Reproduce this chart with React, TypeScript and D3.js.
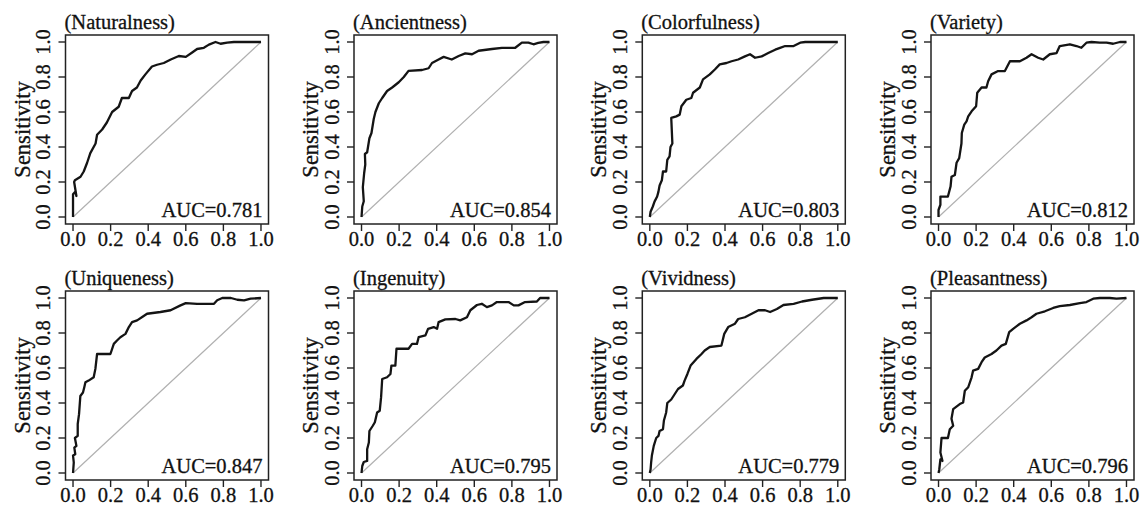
import * as d3 from 'd3';
import React from 'react';

// ROC curves: [1 - specificity, sensitivity]
const naturalnessRoc = [
  [0, 0], [0, 0.13], [0.012, 0.145], [0.018, 0.12], [0.006, 0.2], [0.01, 0.21], [0.04, 0.23],
  [0.057, 0.26], [0.075, 0.31], [0.092, 0.365], [0.12, 0.42], [0.128, 0.47], [0.155, 0.5],
  [0.18, 0.54], [0.208, 0.6], [0.243, 0.63], [0.26, 0.68], [0.297, 0.68], [0.314, 0.72],
  [0.34, 0.74], [0.36, 0.78], [0.385, 0.815], [0.42, 0.86], [0.447, 0.87], [0.483, 0.88],
  [0.52, 0.9], [0.563, 0.92], [0.6, 0.915], [0.634, 0.94], [0.66, 0.96], [0.696, 0.967],
  [0.723, 0.985], [0.758, 1.0], [0.785, 0.99], [0.82, 0.996], [0.856, 1], [1, 1],
];
const ancientnessRoc = [
  [0, 0], [0.004, 0.06], [0.012, 0.09], [0.007, 0.17], [0.014, 0.25], [0.02, 0.3],
  [0.018, 0.36], [0.03, 0.37], [0.042, 0.45], [0.053, 0.48], [0.065, 0.56], [0.074, 0.6],
  [0.092, 0.65], [0.11, 0.68], [0.136, 0.72], [0.163, 0.74], [0.198, 0.77], [0.225, 0.8],
  [0.25, 0.835], [0.322, 0.84], [0.357, 0.85], [0.375, 0.88], [0.41, 0.9], [0.437, 0.915],
  [0.48, 0.9], [0.517, 0.92], [0.552, 0.935], [0.588, 0.93], [0.623, 0.95], [0.694, 0.96],
  [0.747, 0.967], [0.818, 0.967], [0.853, 0.996], [0.888, 0.996], [0.915, 0.987],
  [0.94, 0.995], [0.968, 1], [1, 1],
];
const colorfulnessRoc = [
  [0, 0], [0.004, 0.03], [0.016, 0.06], [0.025, 0.088], [0.039, 0.117], [0.046, 0.145],
  [0.052, 0.18], [0.064, 0.21], [0.07, 0.26], [0.087, 0.26], [0.093, 0.327], [0.105, 0.346],
  [0.11, 0.4], [0.12, 0.42], [0.114, 0.566], [0.141, 0.575], [0.159, 0.585], [0.168, 0.633],
  [0.194, 0.67], [0.221, 0.68], [0.23, 0.71], [0.266, 0.74], [0.283, 0.786], [0.319, 0.815],
  [0.346, 0.843], [0.372, 0.872], [0.408, 0.88], [0.435, 0.89], [0.47, 0.9], [0.506, 0.918],
  [0.533, 0.93], [0.56, 0.91], [0.595, 0.918], [0.63, 0.937], [0.667, 0.956], [0.693, 0.966],
  [0.72, 0.977], [0.765, 0.977], [0.8, 0.996], [0.827, 1], [1, 1],
];
const varietyRoc = [
  [0, 0], [0, 0.04], [0.01, 0.07], [0.01, 0.117], [0.05, 0.117], [0.064, 0.174], [0.069, 0.23],
  [0.087, 0.24], [0.096, 0.31], [0.11, 0.336], [0.122, 0.42], [0.124, 0.48], [0.137, 0.528],
  [0.149, 0.547], [0.158, 0.575], [0.176, 0.604], [0.2, 0.633], [0.206, 0.71], [0.229, 0.74],
  [0.255, 0.74], [0.264, 0.776], [0.282, 0.815], [0.317, 0.834], [0.353, 0.834], [0.38, 0.89],
  [0.433, 0.89], [0.468, 0.91], [0.495, 0.93], [0.53, 0.91], [0.557, 0.9], [0.592, 0.93],
  [0.628, 0.937], [0.645, 0.977], [0.699, 0.987], [0.734, 0.977], [0.76, 0.967],
  [0.787, 0.996], [0.814, 1], [0.858, 0.996], [0.894, 0.996], [0.929, 0.99], [0.965, 1], [1, 1],
];
const uniquenessRoc = [
  [0, 0], [0.004, 0.06], [0, 0.1], [0.012, 0.107], [0.007, 0.145], [0.018, 0.155], [0.01, 0.2],
  [0.025, 0.212], [0.025, 0.28], [0.032, 0.336], [0.039, 0.44], [0.053, 0.46], [0.06, 0.49],
  [0.066, 0.518], [0.083, 0.528], [0.11, 0.547], [0.119, 0.595], [0.128, 0.68], [0.199, 0.68],
  [0.217, 0.738], [0.234, 0.757], [0.252, 0.776], [0.279, 0.795], [0.297, 0.834],
  [0.314, 0.862], [0.341, 0.872], [0.368, 0.891], [0.394, 0.91], [0.465, 0.92], [0.519, 0.93],
  [0.572, 0.958], [0.6, 0.971], [0.66, 0.967], [0.75, 0.967], [0.767, 0.987], [0.794, 1],
  [0.84, 1], [0.874, 0.99], [0.91, 0.987], [0.945, 0.996], [1, 1],
];
const ingenuityRoc = [
  [0, 0], [0.004, 0.04], [0.012, 0.063], [0.03, 0.069], [0.03, 0.136], [0.039, 0.174],
  [0.042, 0.24], [0.06, 0.27], [0.071, 0.29], [0.083, 0.346], [0.097, 0.356], [0.104, 0.432],
  [0.11, 0.537], [0.136, 0.547], [0.154, 0.566], [0.159, 0.614], [0.18, 0.614], [0.186, 0.71],
  [0.25, 0.71], [0.269, 0.738], [0.295, 0.738], [0.304, 0.776], [0.34, 0.786], [0.354, 0.824],
  [0.384, 0.834], [0.402, 0.824], [0.41, 0.862], [0.446, 0.878], [0.5, 0.88], [0.525, 0.872],
  [0.561, 0.89], [0.579, 0.93], [0.614, 0.96], [0.64, 0.967], [0.667, 0.948], [0.694, 0.958],
  [0.72, 0.977], [0.782, 0.977], [0.81, 0.958], [0.835, 0.958], [0.87, 0.977], [0.933, 0.98],
  [0.95, 1], [1, 1],
];
const vividnessRoc = [
  [0, 0], [0.004, 0.02], [0.007, 0.06], [0.011, 0.1], [0.021, 0.155], [0.034, 0.2],
  [0.046, 0.212], [0.052, 0.24], [0.07, 0.25], [0.075, 0.3], [0.087, 0.346], [0.093, 0.4],
  [0.114, 0.42], [0.132, 0.45], [0.15, 0.48], [0.176, 0.5], [0.185, 0.528], [0.2, 0.566],
  [0.217, 0.614], [0.248, 0.652], [0.275, 0.68], [0.292, 0.7], [0.319, 0.72], [0.381, 0.728],
  [0.396, 0.795], [0.417, 0.834], [0.453, 0.853], [0.47, 0.88], [0.506, 0.89], [0.542, 0.91],
  [0.578, 0.93], [0.613, 0.93], [0.64, 0.92], [0.676, 0.937], [0.711, 0.96], [0.765, 0.967],
  [0.81, 0.98], [0.863, 0.99], [0.925, 1], [0.96, 1], [1, 1],
];
const pleasantnessRoc = [
  [0, 0], [0.004, 0.02], [0.01, 0.078], [0.021, 0.069], [0.01, 0.117], [0.016, 0.2],
  [0.05, 0.2], [0.06, 0.25], [0.078, 0.27], [0.069, 0.31], [0.078, 0.365], [0.113, 0.394],
  [0.131, 0.403], [0.14, 0.47], [0.158, 0.49], [0.176, 0.547], [0.184, 0.585], [0.211, 0.595],
  [0.229, 0.633], [0.246, 0.66], [0.282, 0.68], [0.308, 0.7], [0.335, 0.728], [0.358, 0.738],
  [0.376, 0.805], [0.397, 0.824], [0.433, 0.853], [0.468, 0.872], [0.495, 0.89], [0.521, 0.91],
  [0.566, 0.924], [0.61, 0.943], [0.645, 0.954], [0.699, 0.96], [0.752, 0.971], [0.787, 0.977],
  [0.823, 0.996], [0.858, 1], [0.911, 1], [0.947, 0.996], [1, 1],
];

const titles = [
  '(Naturalness)', '(Ancientness)', '(Colorfulness)', '(Variety)',
  '(Uniqueness)', '(Ingenuity)', '(Vividness)', '(Pleasantness)',
];
const aucLabels = [
  'AUC=0.781', 'AUC=0.854', 'AUC=0.803', 'AUC=0.812',
  'AUC=0.847', 'AUC=0.795', 'AUC=0.779', 'AUC=0.796',
];
const curves = [
  naturalnessRoc, ancientnessRoc, colorfulnessRoc, varietyRoc,
  uniquenessRoc, ingenuityRoc, vividnessRoc, pleasantnessRoc,
];
const ticks = [0, 0.2, 0.4, 0.6, 0.8, 1.0];

const W = 1143;
const H = 513;
const colLeft = [65.5, 354, 642.3, 931];
const rowTop = [35, 291];
const boxW = 203;
const boxH = 189;
const font = '"Liberation Serif", "Times New Roman", serif';
const fs = 20.5;
const ink = '#111';
// the reference is a blurry scan, so text gets a thin outline to look as heavy
const textStyle = { fontFamily: font, fontSize: fs, fill: ink, stroke: ink, strokeWidth: 0.3 };

function Panel({ i }: { i: number }) {
  const L = colLeft[i % 4];
  const T = rowTop[Math.floor(i / 4)];
  const x = d3.scaleLinear().domain([-0.04, 1.04]).range([L, L + boxW]);
  const y = d3.scaleLinear().domain([-0.04, 1.04]).range([T + boxH, T]);
  const line = d3.line<number[]>().x(d => x(d[0])).y(d => y(d[1]));
  const fmt = d3.format('.1f');

  return (
    <g>
      <text x={L - 1} y={T - 6} style={textStyle}>{titles[i]}</text>
      <line x1={x(0)} y1={y(0)} x2={x(1)} y2={y(1)} stroke="#b0b0b0" strokeWidth={1.2} />
      <path d={line(curves[i]) || ''} fill="none" stroke="#141414" strokeWidth={2.3} strokeLinejoin="round" />
      <rect x={L} y={T} width={boxW} height={boxH} fill="none" stroke="#222" strokeWidth={1.5} />
      {ticks.map(t => (
        <g key={'x' + t}>
          <line x1={x(t)} x2={x(t)} y1={T + boxH} y2={T + boxH + 7} stroke="#222" strokeWidth={1.4} />
          <text x={x(t)} y={T + boxH + 22} textAnchor="middle" style={textStyle}>{fmt(t)}</text>
        </g>
      ))}
      {ticks.map(t => (
        <g key={'y' + t}>
          <line x1={L} x2={L - 7} y1={y(t)} y2={y(t)} stroke="#222" strokeWidth={1.4} />
          <text transform={`translate(${L - 15.5},${y(t)}) rotate(-90)`} textAnchor="middle" style={textStyle}>{fmt(t)}</text>
        </g>
      ))}
      <text transform={`translate(${L - 36},${T + boxH / 2}) rotate(-90)`} textAnchor="middle"
        style={{ ...textStyle, fontSize: 22.5 }}>Sensitivity</text>
      <text x={L + boxW - 6} y={T + boxH - 7} textAnchor="end" style={textStyle}>{aucLabels[i]}</text>
    </g>
  );
}

export default function App() {
  return (
    <svg width={W} height={H} style={{ position: 'absolute', left: 0, top: 0, background: '#fff' }}>
      <rect width={W} height={H} fill="#fff" />
      {curves.map((_, i) => <Panel key={i} i={i} />)}
    </svg>
  );
}
